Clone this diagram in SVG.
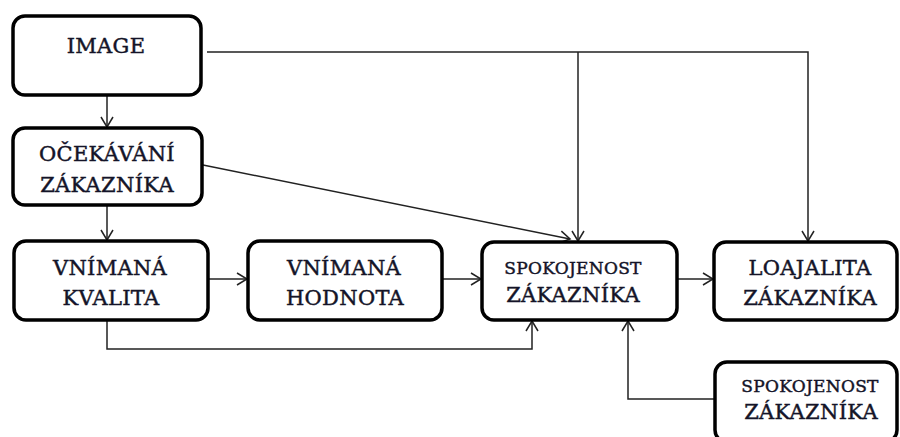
<svg xmlns="http://www.w3.org/2000/svg" width="900" height="437" viewBox="0 0 900 437">
<style>
.box{fill:#fff;stroke:#000;stroke-width:3.5}
.t{font-family:"DejaVu Serif","Liberation Serif",serif;font-size:21px;fill:#141428;stroke:#141428;stroke-width:0.45;text-anchor:middle;letter-spacing:0.3px}
.s{font-size:17px}
.c{fill:none;stroke:#222;stroke-width:1.5}
</style>
<defs>
<marker id="ah" markerUnits="userSpaceOnUse" markerWidth="14" markerHeight="14" viewBox="-12 -7 14 14" refX="0" refY="0" orient="auto">
<path d="M-10,-6 L0,0 L-10,6" fill="none" stroke="#222" stroke-width="1.5"/>
</marker>
</defs>
<g id="connectors">
<path class="c" d="M107,96 L107,127" marker-end="url(#ah)"/>
<path class="c" d="M107,205 L107,240" marker-end="url(#ah)"/>
<path class="c" d="M208,279 L247,279" marker-end="url(#ah)"/>
<path class="c" d="M442,279 L481,279" marker-end="url(#ah)"/>
<path class="c" d="M677,279 L713,279" marker-end="url(#ah)"/>
<path class="c" d="M207,52 L808,52 L808,241" marker-end="url(#ah)"/>
<path class="c" d="M578,52 L578,241" marker-end="url(#ah)"/>
<path class="c" d="M203,165 L570,239" marker-end="url(#ah)"/>
<path class="c" d="M107,320 L107,349 L532,349 L532,321" marker-end="url(#ah)"/>
<path class="c" d="M715,399 L628,399 L628,321" marker-end="url(#ah)"/>
</g>
<g id="image">
<rect class="box" x="13" y="16" width="188" height="79" rx="12"/>
<text class="t" x="106" y="53">IMAGE</text>
</g>
<g id="ocekavani">
<rect class="box" x="13" y="128" width="189" height="77" rx="12"/>
<text class="t" x="107" y="161">OČEKÁVÁNÍ</text>
<text class="t" x="107" y="192">ZÁKAZNÍKA</text>
</g>
<g id="kvalita">
<rect class="box" x="14" y="241" width="194" height="79" rx="12"/>
<text class="t" x="110" y="275">VNÍMANÁ</text>
<text class="t" x="111" y="305">KVALITA</text>
</g>
<g id="hodnota">
<rect class="box" x="248" y="241" width="194" height="79" rx="12"/>
<text class="t" x="344" y="275">VNÍMANÁ</text>
<text class="t" x="345" y="305">HODNOTA</text>
</g>
<g id="spokojenost">
<rect class="box" x="482" y="242" width="195" height="78" rx="12"/>
<text class="t s" x="573" y="274">SPOKOJENOST</text>
<text class="t" x="573" y="302">ZÁKAZNÍKA</text>
</g>
<g id="loajalita">
<rect class="box" x="714" y="242" width="183" height="78" rx="12"/>
<text class="t" x="810" y="275">LOAJALITA</text>
<text class="t" x="810" y="305">ZÁKAZNÍKA</text>
</g>
<g id="spokojenost2">
<rect class="box" x="715" y="362" width="182" height="80" rx="12"/>
<text class="t s" x="810" y="392">SPOKOJENOST</text>
<text class="t" x="811" y="419">ZÁKAZNÍKA</text>
</g>
</svg>
